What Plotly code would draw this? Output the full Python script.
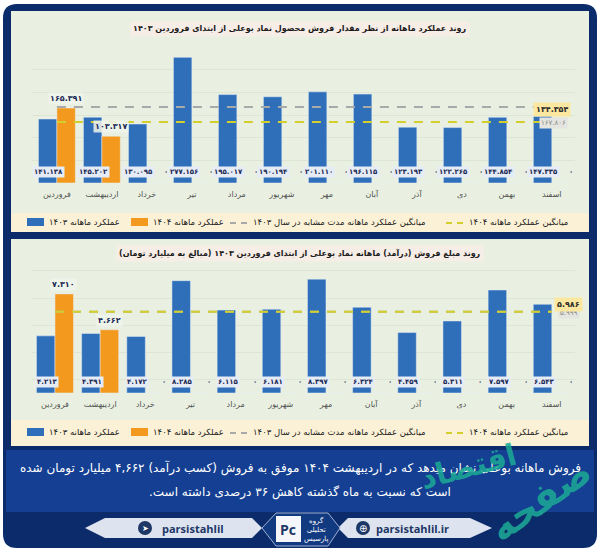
import plotly.graph_objects as go

W, H = 600, 551

months = ["فروردین", "اردیبهشت", "خرداد", "تیر", "مرداد", "شهریور",
          "مهر", "آبان", "آذر", "دی", "بهمن", "اسفند"]

# monthly sales quantity (ton)
qty_1403 = [141138, 145202, 130095, 277156, 195017, 190194,
            201110, 196115, 123193, 122265, 144854, 147335]
qty_1404 = [165391, 103317, 0, 0, 0, 0, 0, 0, 0, 0, 0, 0]
qty_avg_1403 = 167806
qty_avg_1404 = 134354

# monthly revenue (thousand billion toman)
rev_1403 = [4.213, 4.391, 4.172, 8.285, 6.115, 6.181,
            8.397, 6.324, 4.459, 5.311, 7.597, 6.543]
rev_1404 = [7.310, 4.662, 0, 0, 0, 0, 0, 0, 0, 0, 0, 0]
rev_avg_1403 = 5.999
rev_avg_1404 = 5.986

name_1403 = "عملکرد ماهانه ۱۴۰۳"
name_1404 = "عملکرد ماهانه ۱۴۰۴"
name_avg_1403 = "میانگین عملکرد ماهانه مدت مشابه در سال ۱۴۰۳"
name_avg_1404 = "میانگین عملکرد ماهانه ۱۴۰۴"

title_qty = "روند عملکرد ماهانه از نظر مقدار فروش محصول نماد بوعلی از ابتدای فروردین ۱۴۰۳"
title_rev = "روند مبلغ فروش (درآمد) ماهانه نماد بوعلی از ابتدای فروردین ۱۴۰۳ (مبالغ به میلیارد تومان)"
note_1 = "فروش ماهانه بوعلی نشان میدهد که در اردیبهشت ۱۴۰۴ موفق به فروش (کسب درآمد) ۴,۶۶۲ میلیارد تومان شده"
note_2 = "است که نسبت به ماه گذشته کاهش ۳۶ درصدی داشته است."

BLUE = "#2f6fba"
ORANGE = "#f39a1e"
GRAY = "#a9a9a9"
YELLOW = "#d3cf2c"
NAVY = "#0c2b6a"
MINT = "#e9f0e1"
BEIGE = "#fbf1d6"
FA = "DejaVu Sans"
RLM = "\u200f"

fa_digits = str.maketrans("0123456789", "۰۱۲۳۴۵۶۷۸۹")


def fa(s):
    return str(s).translate(fa_digits)


def rtl(s):
    return RLM + s + RLM


def fmt_qty(v):
    return fa(f"{v:,}".replace(",", "."))


def fmt_rev(v):
    return fa("0") if v == 0 else fa(f"{v:.3f}")


def px(x):
    return x / W


def py(y):
    return 1 - y / H


def rrect(x0, y0, x1, y1, r):
    # rounded rectangle path in paper units
    X0, X1 = px(x0), px(x1)
    Y0, Y1 = py(y0), py(y1)
    rx, ry = r / W, r / H
    return (f"M{X0+rx},{Y0} L{X1-rx},{Y0} Q{X1},{Y0} {X1},{Y0-ry} "
            f"L{X1},{Y1+ry} Q{X1},{Y1} {X1-rx},{Y1} L{X0+rx},{Y1} "
            f"Q{X0},{Y1} {X0},{Y1+ry} L{X0},{Y0-ry} Q{X0},{Y0} {X0+rx},{Y0} Z")


def poly(pts):
    return "M" + " L".join(f"{px(a)},{py(b)}" for a, b in pts) + " Z"


fig = go.Figure()

charts = [
    ("x", "y", qty_1403, qty_1404, qty_avg_1403, qty_avg_1404, fmt_qty),
    ("x2", "y2", rev_1403, rev_1404, rev_avg_1403, rev_avg_1404, fmt_rev),
]
for xa, ya, s03, s04, a03, a04, fmt in charts:
    fig.add_trace(go.Bar(x=months, y=s03, name=name_1403, marker_color=BLUE,
                         xaxis=xa, yaxis=ya, showlegend=False))
    fig.add_trace(go.Bar(x=months, y=s04, name=name_1404, marker_color=ORANGE,
                         xaxis=xa, yaxis=ya, showlegend=False))
    fig.add_trace(go.Scatter(x=months, y=[a03] * len(months), mode="lines",
                             name=name_avg_1403, xaxis=xa, yaxis=ya, showlegend=False,
                             line=dict(color=GRAY, width=2, dash="9px,8px")))
    fig.add_trace(go.Scatter(x=months, y=[a04] * len(months), mode="lines",
                             name=name_avg_1404, xaxis=xa, yaxis=ya, showlegend=False,
                             line=dict(color=YELLOW, width=2, dash="9px,8px")))

P = dict(xref="paper", yref="paper")
C = dict(xanchor="center", yanchor="middle", showarrow=False)

shapes = [
    dict(type="path", path=rrect(3, 4, 597, 548, 14), fillcolor=NAVY, line_width=0, layer="below", **P),
    dict(type="rect", x0=px(11), x1=px(589), y0=py(11), y1=py(213), fillcolor=MINT, line_width=0, layer="below", **P),
    dict(type="rect", x0=px(11), x1=px(589), y0=py(213), y1=py(232), fillcolor=BEIGE, line_width=0, layer="below", **P),
    dict(type="rect", x0=px(11), x1=px(589), y0=py(239), y1=py(420), fillcolor=MINT, line_width=0, layer="below", **P),
    dict(type="rect", x0=px(11), x1=px(589), y0=py(420), y1=py(446), fillcolor=BEIGE, line_width=0, layer="below", **P),
    dict(type="rect", x0=px(6), x1=px(594), y0=py(450), y1=py(512), fillcolor="#143f92", line_width=0, layer="below", **P),
    # footer pills
    dict(type="path", layer="below", line_width=0, fillcolor="#dde4ef", **P,
         path=poly([(85, 528), (105, 518), (252, 518), (262, 528), (252, 538), (105, 538)])),
    dict(type="path", layer="below", line_width=0, fillcolor="#dde4ef", **P,
         path=poly([(338, 528), (348, 518), (470, 518), (492, 528), (470, 538), (348, 538)])),
    dict(type="path", layer="below", line=dict(color="#9fb2d6", width=1), fillcolor="#123a80", **P,
         path=poly([(262, 528), (276, 513), (328, 513), (340, 528), (328, 546), (276, 546)])),
    dict(type="rect", x0=px(276), x1=px(301), y0=py(516), y1=py(542), fillcolor="#f4f6fa", line_width=0, **P),
    dict(type="circle", x0=px(138), x1=px(152), y0=py(521), y1=py(535), fillcolor="#1d3766", line_width=0, **P),
    dict(type="circle", x0=px(356), x1=px(370), y0=py(521), y1=py(535), fillcolor="#1d3766", line_width=0, **P),
]

annotations = []

# legends (drawn for both panels)
for ly in (222, 432):
    shapes += [
        dict(type="rect", x0=px(27), x1=px(44), y0=py(ly - 4), y1=py(ly + 4), fillcolor=BLUE, line_width=0, **P),
        dict(type="rect", x0=px(131), x1=px(148), y0=py(ly - 4), y1=py(ly + 4), fillcolor=ORANGE, line_width=0, **P),
        dict(type="line", x0=px(230), x1=px(248), y0=py(ly + 1), y1=py(ly + 1),
             line=dict(color=GRAY, width=2, dash="6px,5px"), **P),
        dict(type="line", x0=px(446), x1=px(464), y0=py(ly + 1), y1=py(ly + 1),
             line=dict(color=YELLOW, width=2, dash="6px,5px"), **P),
    ]
    for lx, txt in ((47, name_1403), (151, name_1404), (251, name_avg_1403), (467, name_avg_1404)):
        annotations.append(dict(x=px(lx), y=py(ly), text=rtl(txt), **P,
                                showarrow=False, xanchor="left", yanchor="middle",
                                font=dict(family=FA, size=8.5, color="#1c1c1c")))

# titles
for ty, txt in ((29, title_qty), (253, title_rev)):
    annotations.append(dict(x=0.5, y=py(ty), text=f"<b>{rtl(txt)}</b>", **P, **C,
                            font=dict(family=FA, size=8, color="#1b1b1b"),
                            bgcolor="rgba(250,236,232,0.8)", borderpad=2))

# bar value labels
for xa, ya, s03, s04, a03, a04, fmt in charts:
    for m, v3, v4 in zip(months, s03, s04):
        annotations.append(dict(x=m, y=0, xref=xa, yref=ya, text=f"<b>{fmt(v3)}</b>", **C,
                                xshift=-8, yshift=11, bgcolor="#e6ecf5", borderpad=1,
                                font=dict(family=FA, size=7, color="#1d2b55")))
        if v4 == 0:
            annotations.append(dict(x=m, y=0, xref=xa, yref=ya, text=f"<b>{fmt(v4)}</b>", **C,
                                    xshift=19, yshift=11,
                                    font=dict(family=FA, size=7, color="#1d2b55")))
        else:
            annotations.append(dict(x=m, y=v4, xref=xa, yref=ya, text=f"<b>{fmt(v4)}</b>",
                                    showarrow=False, xshift=9, yshift=3, yanchor="bottom",
                                    bgcolor="rgba(240,244,236,0.85)", borderpad=1,
                                    font=dict(family=FA, size=8, color="#1d2b55")))
    # average labels at right end
    lx = 552 if ya == "y" else 568
    annotations.append(dict(x=px(lx + 1), y=a04, xref="paper", yref=ya, text=fmt(a03), **C,
                            yshift=-1, bgcolor="#e4e4e0",
                            font=dict(family=FA, size=7, color="#8a8a80")))
    annotations.append(dict(x=px(lx), y=a04, xref="paper", yref=ya, text=f"<b>{fmt(a04)}</b>", **C,
                            yshift=13 if ya == "y" else 7, bgcolor="#fbe7a0", borderpad=2,
                            font=dict(family=FA, size=8, color="#2b2b2b")))

# bottom note, footer and watermark
annotations += [
    dict(x=0.5, y=py(468), text=rtl(note_1), **P, **C,
         font=dict(family=FA, size=12, color="white")),
    dict(x=0.5, y=py(492), text=rtl(note_2), **P, **C,
         font=dict(family=FA, size=12, color="white")),
    dict(x=px(160), y=py(528), text="<b>parsistahlil</b>", **P, showarrow=False,
         xanchor="left", yanchor="middle", font=dict(family="Open Sans", size=11, color="#1d3766")),
    dict(x=px(374), y=py(528), text="<b>parsistahlil.ir</b>", **P, showarrow=False,
         xanchor="left", yanchor="middle", font=dict(family="Open Sans", size=11, color="#1d3766")),
    dict(x=px(145), y=py(528), text="➤", **P, **C,
         font=dict(family="DejaVu Sans", size=8, color="white")),
    dict(x=px(363), y=py(528), text="⊕", **P, **C,
         font=dict(family="DejaVu Sans", size=10, color="white")),
    dict(x=px(288), y=py(529), text="<b>Pc</b>", **P, **C,
         font=dict(family="Open Sans", size=14, color="#1d3766")),
    dict(x=px(316), y=py(529), text="گروه<br>تحلیلی<br>پارسیس", **P, **C,
         font=dict(family=FA, size=7, color="white")),
    dict(x=px(468), y=py(466), text="<b>اقتصاد</b>", **P, **C,
         textangle=-15, font=dict(family=FA, size=30, color="rgba(28,168,150,0.9)")),
    dict(x=px(540), y=py(500), text="<b>صفحه</b>", **P, **C,
         textangle=-35, font=dict(family=FA, size=38, color="rgba(28,168,150,0.9)")),
]

xdom = [px(32.4), px(574.8)]
axis_common = dict(showgrid=True, gridcolor="#dde5d5", gridwidth=1, zeroline=False,
                   showline=False, ticks="", showticklabels=False, fixedrange=True)
xaxis_common = dict(domain=xdom, showgrid=False, ticks="", showline=False,
                    tickfont=dict(family=FA, size=8, color="#505050"), ticklabelstandoff=5)

fig.update_layout(
    width=W, height=H,
    margin=dict(l=0, r=0, t=0, b=0),
    paper_bgcolor="white", plot_bgcolor="rgba(0,0,0,0)",
    barmode="group", bargap=0.18, bargroupgap=0,
    showlegend=False,
    xaxis=dict(anchor="y", **xaxis_common),
    yaxis=dict(domain=[py(183), py(47)], range=[0, 300000], dtick=50000, **axis_common),
    xaxis2=dict(anchor="y2", **xaxis_common),
    yaxis2=dict(domain=[py(393), py(265)], range=[0, 9.44], tick0=1, dtick=2, **axis_common),
    shapes=shapes,
    annotations=annotations,
)

fig.write_html("out.html", config={"displayModeBar": False},
               post_script="document.body.style.margin='0';document.body.style.overflow='hidden';")
